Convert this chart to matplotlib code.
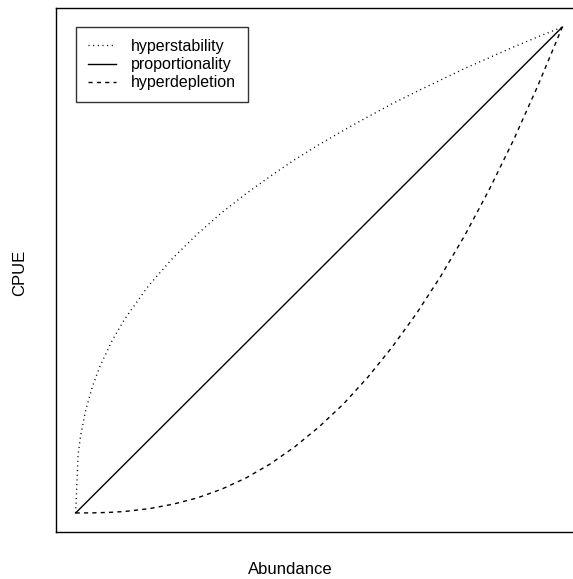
import matplotlib
matplotlib.use("Agg")
import matplotlib.pyplot as plt

plt.rcParams["font.family"] = ["Liberation Sans", "DejaVu Sans"]

# values (relative abundance vs relative CPUE)
abundance = [0.0, 0.005, 0.01, 0.02, 0.035, 0.05, 0.075, 0.1, 0.15, 0.2, 0.25,
             0.3, 0.35, 0.4, 0.45, 0.5, 0.55, 0.6, 0.65, 0.7, 0.75, 0.8,
             0.85, 0.9, 0.95, 1.0]
cpue_hyperstability = [0.0, 0.120, 0.158, 0.209, 0.262, 0.302, 0.355, 0.398,
                       0.468, 0.525, 0.574, 0.618, 0.657, 0.693, 0.727, 0.758,
                       0.787, 0.815, 0.842, 0.867, 0.891, 0.915, 0.937, 0.959,
                       0.980, 1.0]
cpue_proportionality = list(abundance)
cpue_hyperdepletion = [0.0, 0.0, 0.0, 0.0001, 0.0002, 0.0006, 0.0015, 0.003,
                       0.0087, 0.018, 0.031, 0.049, 0.072, 0.101, 0.136, 0.177,
                       0.224, 0.279, 0.341, 0.410, 0.487, 0.572, 0.666, 0.768,
                       0.880, 1.0]

W, H = 573, 579
fig = plt.figure(figsize=(W / 100, H / 100), dpi=100)
ax = fig.add_axes([56.2 / W, (H - 532.4) / H, 525.6 / W, 524.8 / H])

lw = 1.0
ax.plot(abundance, cpue_hyperstability, color="black", lw=lw,
        linestyle=(0, (0.75, 2.6)), label="hyperstability")
ax.plot(abundance, cpue_proportionality, color="black", lw=lw,
        linestyle="-", label="proportionality")
ax.plot(abundance, cpue_hyperdepletion, color="black", lw=lw,
        linestyle=(0, (3, 3)), label="hyperdepletion")

ax.set_xlim(-0.04, 1.04)
ax.set_ylim(-0.04, 1.04)
ax.set_xticks([])
ax.set_yticks([])
for sp in ax.spines.values():
    sp.set_linewidth(1.0)
    sp.set_color("black")

leg = ax.legend(loc="upper left", bbox_to_anchor=(0.0, 1.0),
                bbox_transform=ax.transData, borderaxespad=0,
                fontsize=11.5, frameon=True, fancybox=False,
                handlelength=1.75, handletextpad=0.95, borderpad=0.75,
                labelspacing=0.2)
leg.get_frame().set_edgecolor("black")
leg.get_frame().set_linewidth(1.0)

fig.text(290.5 / W, 1 - 570 / H, "Abundance", ha="center", va="center",
         fontsize=12)
fig.text(20 / W, 1 - 273 / H, "CPUE", ha="center", va="center",
         rotation=90, fontsize=12)

fig.savefig("out.png", dpi=100)
